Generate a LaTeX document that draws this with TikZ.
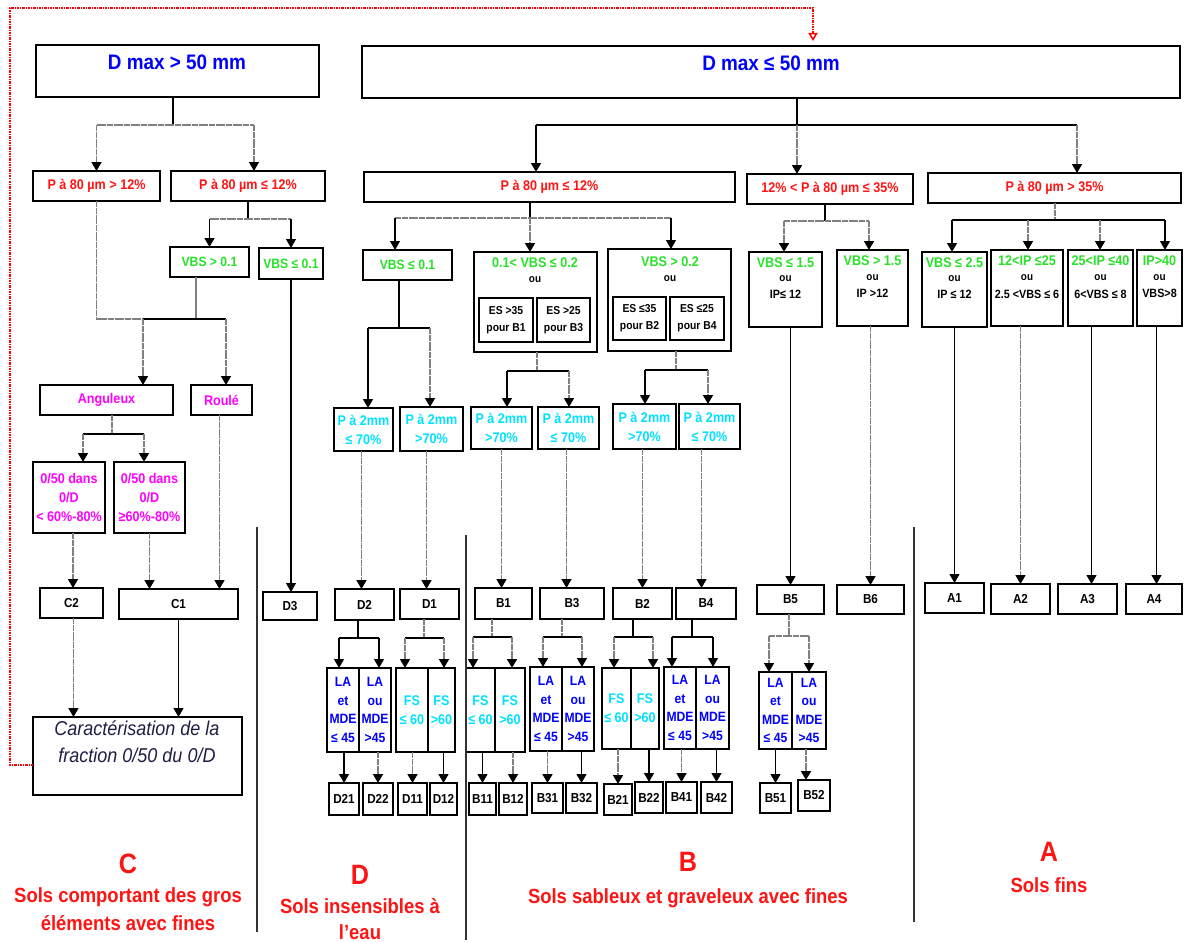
\documentclass[tikz,border=0pt]{standalone}
\usepackage{fontspec}
\setmainfont{Liberation Sans}[FakeStretch=0.9]
\usetikzlibrary{arrows.meta,calc}
\definecolor{tred}{RGB}{255,20,20}
\definecolor{tgreen}{RGB}{40,225,40}
\definecolor{tcyan}{RGB}{0,225,255}
\definecolor{tmag}{RGB}{255,0,255}
\definecolor{tblue}{RGB}{0,0,255}
\definecolor{tnavy}{RGB}{30,30,70}
\newcommand\fsz[2]{\fontsize{#1}{#2}\selectfont}
\newcommand\bx[7][]{\node[bxs,#1,minimum width={#5-#3},minimum height={#6-#4}] (#2) at ({(#3+#5)/2},{(#4+#6)/2}) {#7};}
\newcommand\tx[4]{\node[#3] (#1) at (#2) {#4};}
\tikzset{
 bxs/.style={draw=black, line width=1.3pt, inner sep=0pt, outer sep=0pt, align=center},
 ln/.style={draw=black, line width=1.2pt},
 gl/.style={draw=black!50, line width=1.6pt, dash pattern=on 3pt off 0.4pt},
 arr/.style={-{Triangle[width=10pt,length=9pt,color=black]}},
 sepl/.style={draw=black!80, line width=1.8pt},
 redf/.style={draw=red, line width=1.5pt, dash pattern=on 2.5pt off 1pt on 1pt off 1pt},
 tD/.style={font=\fsz{21}{24}\bfseries, text=tblue, inner sep=0pt},
 tR/.style={font=\fsz{14}{16}\bfseries, text=tred},
 tG/.style={font=\fsz{13.5}{16}\bfseries, text=tgreen},
 tGt/.style={font=\fsz{14}{16}\bfseries, text=tgreen, inner sep=0pt},
 tK/.style={font=\fsz{11.5}{17}\bfseries, text=black},
 tOu/.style={font=\fsz{11}{13}\bfseries, text=black, inner sep=0pt},
 tKt/.style={font=\fsz{12}{14}\bfseries, text=black, inner sep=0pt},
 tM/.style={font=\fsz{14}{19}\bfseries, text=tmag},
 tC/.style={font=\fsz{14}{19}\bfseries, text=tcyan},
 tB/.style={font=\fsz{13.5}{18.5}\bfseries, text=tblue},
 tL/.style={font=\fsz{13}{15}\bfseries, text=black},
 tI/.style={font=\fsz{20}{26.5}\itshape, text=tnavy, align=center, inner sep=0pt},
 tBig/.style={font=\fsz{28}{30}\bfseries, text=tred, inner sep=0pt},
 tSub/.style={font=\fsz{20.5}{26}\bfseries, text=tred, inner sep=0pt},
}
\begin{document}
\begin{tikzpicture}[x=1pt,y=-1pt]
\fill[white] (0,0) rectangle (1184,942);
\useasboundingbox (0,0) rectangle (1184,942);

% ---------- top boxes
\bx{dmaxA}{36}{45}{319}{97}{}
\tx{tdmaxA}{177,62}{tD}{D max > 50 mm}
\bx{dmaxB}{362}{46}{1180}{98}{}
\tx{tdmaxB}{771,63}{tD}{D max ≤ 50 mm}

% ---------- row 2
\bx[tR]{pA}{33}{171}{160}{201}{P à 80 µm > 12\%}
\bx[tR]{pB}{171}{171}{325}{201}{P à 80 µm ≤  12\%}
\bx[tR]{pC}{364}{172}{735}{202}{P à 80 µm ≤  12\%}
\bx[tR]{pD}{747}{174}{913}{204}{12\% < P à 80 µm ≤  35\%}
\bx[tR]{pE}{928}{173}{1181}{203}{P à 80 µm >  35\%}

% ---------- C / D3 branch
\bx[tG]{vA}{170}{247}{249}{277}{VBS > 0.1}
\bx[tG]{vB}{259}{248}{323}{279}{VBS ≤ 0.1}
\bx[tM]{ang}{40}{385}{173}{415}{Anguleux}
\bx[tM]{roul}{191}{385}{252}{415}{Roulé}
\bx[tM]{fa}{33}{462}{105}{533}{0/50 dans\\0/D\\< 60\%-80\%}
\bx[tM]{fb}{114}{462}{185}{533}{0/50 dans\\0/D\\≥60\%-80\%}
\bx[tL]{c2}{40}{588}{103}{618}{C2}
\bx[tL]{c1}{119}{589}{238}{619}{C1}
\bx[tL]{d3}{263}{592}{317}{620}{D3}
\bx{cara}{33}{717}{242}{795}{}
\node[tI, anchor=north] (tcara) at (137,721) {Caractérisation de la\\fraction 0/50 du 0/D};

% ---------- middle (B / D)
\bx[tG]{vC}{363}{250}{452}{280}{VBS ≤  0.1}
\bx{vD}{474}{252}{597}{352}{}
\tx{tvD}{535,263}{tGt}{0.1< VBS ≤  0.2}
\tx{ovD}{535,280}{tOu}{ou}
\bx[tK]{es1}{479}{298}{533}{342}{ES >35\\pour B1}
\bx[tK]{es3}{537}{298}{590}{342}{ES >25\\pour B3}
\bx{vE}{608}{249}{731}{351}{}
\tx{tvE}{670,262}{tGt}{VBS > 0.2}
\tx{ovE}{670,279}{tOu}{ou}
\bx[tK]{es2}{613}{297}{666}{340}{ES ≤35\\pour B2}
\bx[tK]{es4}{670}{297}{724}{340}{ES ≤25\\pour B4}

\bx[tC]{m1}{334}{408}{393}{451}{P à 2mm\\≤ 70\%}
\bx[tC]{m2}{400}{407}{463}{451}{P à 2mm\\>70\%}
\bx[tC]{m3}{471}{407}{532}{449}{P à 2mm\\>70\%}
\bx[tC]{m4}{538}{407}{599}{449}{P à 2mm\\≤ 70\%}
\bx[tC]{m5}{613}{404}{676}{449}{P à 2mm\\>70\%}
\bx[tC]{m6}{679}{404}{740}{449}{P à 2mm\\≤ 70\%}

\bx[tL]{d2}{335}{589}{394}{620}{D2}
\bx[tL]{d1}{400}{589}{459}{619}{D1}
\bx[tL]{b1}{475}{588}{532}{619}{B1}
\bx[tL]{b3}{540}{588}{604}{619}{B3}
\bx[tL]{b2}{613}{588}{672}{619}{B2}
\bx[tL]{b4}{676}{588}{736}{619}{B4}
\bx[tL]{b5}{757}{585}{824}{614}{B5}
\bx[tL]{b6}{837}{585}{904}{614}{B6}
\bx[tL]{a1}{925}{583}{984}{613}{A1}
\bx[tL]{a2}{991}{584}{1050}{614}{A2}
\bx[tL]{a3}{1058}{584}{1117}{614}{A3}
\bx[tL]{a4}{1126}{584}{1182}{614}{A4}

% split boxes
\bx[tB]{s1l}{327}{668}{359}{752}{LA\\et\\MDE\\≤ 45}
\bx[tB]{s1r}{359}{668}{391}{752}{LA\\ou\\MDE\\>45}
\bx[tC]{s2l}{396}{668}{428}{752}{FS\\≤ 60}
\bx[tC]{s2r}{428}{668}{455}{752}{FS\\>60}
\bx[tC]{s3l}{466}{668}{495}{752}{FS\\≤ 60}
\bx[tC]{s3r}{495}{668}{525}{752}{FS\\>60}
\bx[tB]{s4l}{530}{667}{562}{751}{LA\\et\\MDE\\≤ 45}
\bx[tB]{s4r}{562}{667}{594}{751}{LA\\ou\\MDE\\>45}
\bx[tC]{s5l}{602}{668}{631}{749}{FS\\≤ 60}
\bx[tC]{s5r}{631}{668}{659}{749}{FS\\>60}
\bx[tB]{s6l}{664}{667}{696}{749}{LA\\et\\MDE\\≤ 45}
\bx[tB]{s6r}{696}{667}{729}{749}{LA\\ou\\MDE\\>45}
\bx[tB]{s7l}{759}{672}{792}{749}{LA\\et\\MDE\\≤ 45}
\bx[tB]{s7r}{792}{672}{826}{749}{LA\\ou\\MDE\\>45}

\bx[tL]{d21}{329}{783}{359}{815}{D21}
\bx[tL]{d22}{363}{783}{393}{815}{D22}
\bx[tL]{d11}{398}{783}{427}{815}{D11}
\bx[tL]{d12}{430}{783}{457}{815}{D12}
\bx[tL]{b11}{469}{783}{496}{815}{B11}
\bx[tL]{b12}{499}{783}{527}{815}{B12}
\bx[tL]{b31}{532}{783}{563}{813}{B31}
\bx[tL]{b32}{566}{783}{597}{813}{B32}
\bx[tL]{b21}{604}{784}{632}{815}{B21}
\bx[tL]{b22}{635}{782}{663}{813}{B22}
\bx[tL]{b41}{666}{782}{697}{813}{B41}
\bx[tL]{b42}{701}{782}{732}{813}{B42}
\bx[tL]{b51}{760}{783}{791}{813}{B51}
\bx[tL]{b52}{798}{780}{830}{811}{B52}

% ---------- right (A / B5 B6)
\bx{r1}{749}{252}{822}{327}{}
\tx{tr1}{785.5,263}{tGt}{VBS ≤ 1.5}
\tx{or1}{785.5,279}{tOu}{ou}
\tx{kr1}{785.5,294}{tKt}{IP≤ 12}
\bx{r2}{837}{250}{908}{326}{}
\tx{tr2}{872.5,261}{tGt}{VBS > 1.5}
\tx{or2}{872.5,278}{tOu}{ou}
\tx{kr2}{872.5,293}{tKt}{IP >12}
\bx{r3}{922}{252}{987}{327}{}
\tx{tr3}{954.5,263}{tGt}{VBS ≤ 2.5}
\tx{or3}{954.5,279}{tOu}{ou}
\tx{kr3}{954.5,294}{tKt}{IP ≤ 12}
\bx{r4}{991}{250}{1063}{326}{}
\tx{tr4}{1027,261}{tGt}{12<IP ≤25}
\tx{or4}{1027,278}{tOu}{ou}
\tx{kr4}{1027,294}{tKt}{2.5 <VBS ≤ 6}
\bx{r5}{1068}{250}{1133}{326}{}
\tx{tr5}{1100.5,261}{tGt}{25<IP ≤40}
\tx{or5}{1100.5,278}{tOu}{ou}
\tx{kr5}{1100.5,294}{tKt}{6<VBS ≤ 8}
\bx{r6}{1137}{250}{1182}{326}{}
\tx{tr6}{1159.5,261}{tGt}{IP>40}
\tx{or6}{1159.5,278}{tOu}{ou}
\tx{kr6}{1159.5,293}{tKt}{VBS>8}

% ---------- connectors: left part
\coordinate (jA) at (173,125);
\draw[ln] (dmaxA.south -| jA) -- (jA);
\draw[gl] (pA.north |- jA) -- ([xshift=6]pB.north |- jA);
\draw[gl,arr] (pA.north |- jA) -- (pA.north);
\draw[gl,arr] ([xshift=6]pB.north |- jA) -- ([xshift=6]pB.north);

\coordinate (jC) at (248,219);
\draw[ln] (pB.south) -- (jC);
\draw[gl] (vA.north |- jC) -- (vB.north |- jC);
\draw[ln,arr] (vA.north |- jC) -- (vA.north);
\draw[ln,arr] (vB.north |- jC) -- (vB.north);

\coordinate (jE) at (143,319);
\coordinate (jF) at (196,319);
\coordinate (jG) at (226,319);
\draw[gl] (pA.south) -- (pA.south |- jE) -- (jE);
\draw[draw=gray, line width=1.2pt] (vA.south -| jF) -- (jF);
\draw[ln] (jE) -- (jG);
\draw[gl,arr] (jE) -- (ang.north -| jE);
\draw[gl,arr] (jG) -- (roul.north -| jG);
\draw[ln,arr] (vB.south) -- (vB.south |- d3.north);

\coordinate (jH) at (112,434);
\coordinate (jH1) at (83,434);
\coordinate (jH2) at (144,434);
\draw[gl] (ang.south -| jH) -- (jH);
\draw[ln] (jH1) -- (jH2);
\draw[gl,arr] (jH1) -- (fa.north -| jH1);
\draw[gl,arr] (jH2) -- (fb.north -| jH2);

\draw[gl,arr] ([xshift=4]fa.south) -- ([xshift=4]fa.south |- c2.north);
\draw[gl,arr] (fb.south) -- (fb.south |- c1.north);
\draw[gl,arr] ([xshift=-2]roul.south) -- ([xshift=-2]roul.south |- c1.north);
\draw[gl,arr] ([xshift=2]c2.south) -- ([xshift=2]c2.south |- cara.north);
\draw[ln,arr] (c1.south) -- (c1.south |- cara.north);

% ---------- connectors: D max <= 50
\coordinate (jB) at (797,125);
\coordinate (jB1) at (536,125);
\coordinate (jB3) at (1077,125);
\draw[ln] (dmaxB.south -| jB) -- (jB);
\draw[ln] (jB1) -- (jB3);
\draw[ln,arr] (jB1) -- (pC.north -| jB1);
\draw[gl,arr] (jB) -- (pD.north -| jB);
\draw[gl,arr] (jB3) -- (pE.north -| jB3);

\coordinate (jI) at (530,218);
\coordinate (jI1) at (395,218);
\coordinate (jI3) at (671,218);
\draw[ln] (pC.south -| jI) -- (jI);
\draw[gl] (jI1) -- (jI3);
\draw[ln,arr] (jI1) -- (vC.north -| jI1);
\draw[gl,arr] (jI) -- (vD.north -| jI);
\draw[ln,arr] (jI3) -- (vE.north -| jI3);

\coordinate (jJ) at (399,328);
\coordinate (jJ1) at (368,328);
\coordinate (jJ2) at (430,328);
\draw[ln] (vC.south -| jJ) -- (jJ);
\draw[ln] (jJ1) -- (jJ2);
\draw[ln,arr] (jJ1) -- (m1.north -| jJ1);
\draw[gl,arr] (jJ2) -- (m2.north -| jJ2);

\coordinate (jK) at (537,371);
\coordinate (jK1) at (507,371);
\coordinate (jK2) at (569,371);
\draw[gl] (vD.south -| jK) -- (jK);
\draw[ln] (jK1) -- (jK2);
\draw[ln,arr] (jK1) -- (m3.north -| jK1);
\draw[gl,arr] (jK2) -- (m4.north -| jK2);

\coordinate (jL) at (676,370);
\coordinate (jL1) at (645,370);
\coordinate (jL2) at (708,370);
\draw[gl] (vE.south -| jL) -- (jL);
\draw[ln] (jL1) -- (jL2);
\draw[ln,arr] (jL1) -- (m5.north -| jL1);
\draw[gl,arr] (jL2) -- (m6.north -| jL2);

\draw[gl,arr] ([xshift=-2]m1.south) -- ([xshift=-2]m1.south |- d2.north);
\draw[gl,arr] ([xshift=-5]m2.south) -- ([xshift=-5]m2.south |- d1.north);
\draw[gl,arr] (m3.south) -- (m3.south |- b1.north);
\draw[gl,arr] ([xshift=-2]m4.south) -- ([xshift=-2]m4.south |- b3.north);
\draw[gl,arr] ([xshift=-2]m5.south) -- ([xshift=-2]m5.south |- b2.north);
\draw[gl,arr] ([xshift=-8]m6.south) -- ([xshift=-8]m6.south |- b4.north);

% second-level splits
\coordinate (jM) at (358,638); \coordinate (jM1) at (339,638); \coordinate (jM2) at (379,638);
\draw[ln] (d2.south -| jM) -- (jM);
\draw[ln] (jM1) -- (jM2);
\draw[ln,arr] (jM1) -- (s1l.north -| jM1);
\draw[ln,arr] (jM2) -- (s1r.north -| jM2);

\coordinate (jN) at (424,638); \coordinate (jN1) at (405,638); \coordinate (jN2) at (444,638);
\draw[gl] (d1.south -| jN) -- (jN);
\draw[ln] (jN1) -- (jN2);
\draw[gl,arr] (jN1) -- (s2l.north -| jN1);
\draw[gl,arr] (jN2) -- (s2r.north -| jN2);

\coordinate (jO) at (492,637); \coordinate (jO1) at (473,637); \coordinate (jO2) at (512,637);
\draw[gl] (b1.south -| jO) -- (jO);
\draw[ln] (jO1) -- (jO2);
\draw[gl,arr] (jO1) -- (s3l.north -| jO1);
\draw[gl,arr] (jO2) -- (s3r.north -| jO2);

\coordinate (jP) at (562,637); \coordinate (jP1) at (543,637); \coordinate (jP2) at (582,637);
\draw[gl] (b3.south -| jP) -- (jP);
\draw[ln] (jP1) -- (jP2);
\draw[gl,arr] (jP1) -- (s4l.north -| jP1);
\draw[gl,arr] (jP2) -- (s4r.north -| jP2);

\coordinate (jQ) at (633,637); \coordinate (jQ1) at (614,637); \coordinate (jQ2) at (653,637);
\draw[ln] (b2.south -| jQ) -- (jQ);
\draw[ln] (jQ1) -- (jQ2);
\draw[gl,arr] (jQ1) -- (s5l.north -| jQ1);
\draw[gl,arr] (jQ2) -- (s5r.north -| jQ2);

\coordinate (jR) at (692,637); \coordinate (jR1) at (672,637); \coordinate (jR2) at (713,637);
\draw[ln] (b4.south -| jR) -- (jR);
\draw[ln] (jR1) -- (jR2);
\draw[ln,arr] (jR1) -- (s6l.north -| jR1);
\draw[ln,arr] (jR2) -- (s6r.north -| jR2);

\coordinate (jS) at (789,636); \coordinate (jS1) at (769,636); \coordinate (jS2) at (809,636);
\draw[gl] (b5.south -| jS) -- (jS);
\draw[gl] (jS1) -- (jS2);
\draw[gl,arr] (jS1) -- (s7l.north -| jS1);
\draw[gl,arr] (jS2) -- (s7r.north -| jS2);

% to bottom boxes
\draw[ln,arr] (s1l.south -| d21.north) -- (d21.north);
\draw[gl,arr] (s1r.south -| d22.north) -- (d22.north);
\draw[gl,arr] (s2l.south -| d11.north) -- (d11.north);
\draw[ln,arr] (s2r.south -| d12.north) -- (d12.north);
\draw[ln,arr] (s3l.south -| b11.north) -- (b11.north);
\draw[gl,arr] (s3r.south -| b12.north) -- (b12.north);
\draw[gl,arr] (s4l.south -| b31.north) -- (b31.north);
\draw[ln,arr] (s4r.south -| b32.north) -- (b32.north);
\draw[gl,arr] (s5l.south -| b21.north) -- (b21.north);
\draw[ln,arr] (s5r.south -| b22.north) -- (b22.north);
\draw[gl,arr] (s6l.south -| b41.north) -- (b41.north);
\draw[ln,arr] (s6r.south -| b42.north) -- (b42.north);
\draw[ln,arr] (s7l.south -| b51.north) -- (b51.north);
\draw[gl,arr] ([xshift=-3]s7r.south) -- ([xshift=-3]s7r.south |- b52.north);

% ---------- right connectors
\coordinate (jT) at (825,221); \coordinate (jT1) at (784,221); \coordinate (jT2) at (869,221);
\draw[ln] (pD.south -| jT) -- (jT);
\draw[gl] (jT1) -- (jT2);
\draw[gl,arr] (jT1) -- (r1.north -| jT1);
\draw[gl,arr] (jT2) -- (r2.north -| jT2);

\coordinate (jU) at (1055,220); \coordinate (jU1) at (952,220); \coordinate (jU2) at (1028,220);
\coordinate (jU3) at (1100,220); \coordinate (jU4) at (1165,220);
\draw[gl] (pE.south -| jU) -- (jU);
\draw[ln] (jU1) -- (jU4);
\draw[ln,arr] (jU1) -- (r3.north -| jU1);
\draw[gl,arr] (jU2) -- (r4.north -| jU2);
\draw[gl,arr] (jU3) -- (r5.north -| jU3);
\draw[ln,arr] (jU4) -- (r6.north -| jU4);

\draw[ln,arr] (r1.south -| b5.north) -- (b5.north);
\draw[gl,arr] (r2.south -| b6.north) -- (b6.north);
\draw[ln,arr] (r3.south -| a1.north) -- (a1.north);
\draw[gl,arr] (r4.south -| a2.north) -- (a2.north);
\draw[ln,arr] ([xshift=-9]r5.south) -- ([xshift=-9]r5.south |- a3.north);
\draw[ln,arr] ([xshift=-3]r6.south) -- ([xshift=-3]r6.south |- a4.north);

% ---------- separators
\draw[sepl] (257,527) -- (257,932);
\draw[sepl] (466,535) -- (466,940);
\draw[sepl] (914,527) -- (914,922);

% ---------- red dotted return line
\coordinate (rA) at (10,765);
\coordinate (rB) at (10,8);
\coordinate (rC) at (813,8);
\draw[redf,-{Triangle[open,width=9pt,length=8pt]},shorten >=5pt]
  ([yshift=-9]cara.west) -- (rA) -- (rB) -- (rC) -- (rC |- dmaxB.north);

% ---------- class labels
\tx{lC}{128,864}{tBig}{C}
\tx{lC1}{128,897}{tSub}{Sols comportant des gros}
\tx{lC2}{128,923}{tSub}{éléments avec fines}
\tx{lD}{360,875}{tBig}{D}
\tx{lD1}{360,906}{tSub}{Sols insensibles à}
\tx{lD2}{360,932}{tSub}{l’eau}
\tx{lB}{688,862}{tBig}{B}
\tx{lB1}{688,898}{tSub}{Sols sableux et graveleux avec fines}
\tx{lA}{1049,852}{tBig}{A}
\tx{lA1}{1049,885}{tSub}{Sols fins}
\end{tikzpicture}
\end{document}
